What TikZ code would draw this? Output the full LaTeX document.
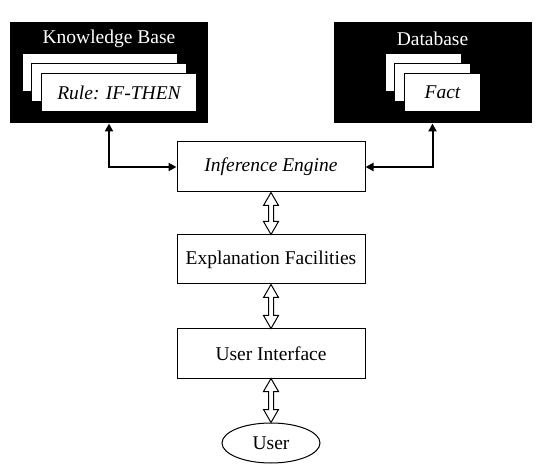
\documentclass[tikz,border=0pt]{standalone}
\usepackage{fontspec}
\setmainfont{Liberation Serif}
\usetikzlibrary{arrows.meta,calc,shapes.geometric}
\tikzset{blk/.style={draw=black, fill=black, line width=1, minimum width=197, minimum height=100, inner sep=0}}
\tikzset{card/.style={draw=black, fill=white, line width=1, minimum height=38, inner sep=0}}
\tikzset{box/.style={draw=black, fill=white, line width=1, minimum width=188, minimum height=50, inner sep=0}}
\tikzset{link/.style={line width=2, {Triangle[length=8pt,width=8pt]}-{Triangle[length=8pt,width=8pt]}}}
\tikzset{hollow/.style={draw=black, fill=white, line width=1, line join=miter}}
\newcommand\twoway[2]{%
  \draw[hollow] (#1.south) -- ++(7.5,13) -- ++(-5,0) -- ($(#2.north)+(2.5,-13)$) -- ++(5,0)
    -- (#2.north) -- ++(-7.5,-13) -- ++(5,0) -- ($(#1.south)+(-2.5,13)$) -- ++(-5,0) -- cycle;}

\begin{document}
\begin{tikzpicture}[x=1pt, y=-1pt, font=\fontsize{19.5}{23}\selectfont]
  \useasboundingbox (0,0) rectangle (544,473);

  \node[blk] (kb) at (109,73) {};
  \node[blk, minimum width=197] (db) at (432.5,73) {};
  \node[text=white] (kbt) at (109,38.5) {Knowledge Base};
  \node[text=white] (dbt) at (432.5,38.5) {Database};

  \foreach \i/\d in {0/0,1/9.8} {
    \node[card, minimum width=155] (rule\i) at (99.5+\d,73+\d) {};
    \node[card, minimum width=76] (fact\i) at (423+\d,73+\d) {};
  }
  \node[card, minimum width=155] (rule) at (119,92.5) {\itshape Rule: IF-THEN};
  \node[card, minimum width=76] (fact) at (442.5,92.5) {\itshape Fact};

  \node[box] (ie) at (271,167) {\itshape Inference Engine};
  \node[box, minimum height=49] (ef) at (271,259.5) {Explanation Facilities};
  \node[box, minimum height=49] (ui) at (271,353.5) {User Interface};
  \node[draw, ellipse, line width=1, minimum width=98, minimum height=40, inner sep=0] (usr) at (271,443) {User};

  \draw[link] (kb.south) |- (ie.west);
  \draw[link] (db.south) |- (ie.east);

  \twoway{ie}{ef}
  \twoway{ef}{ui}
  \twoway{ui}{usr}
\end{tikzpicture}
\end{document}
